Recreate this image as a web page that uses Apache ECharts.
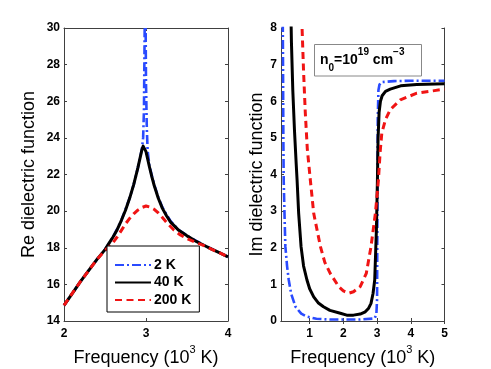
<!DOCTYPE html>
<html><head><meta charset="utf-8">
<script src="https://cdn.jsdelivr.net/npm/echarts@6/dist/echarts.min.js"></script>
<style>html,body{margin:0;padding:0;background:#fff}#c{width:491px;height:369px}</style>
</head><body><div id="c"></div>
<script>
// ---- Left panel: Re dielectric function ----
var reFreq40 = [2.0,2.1,2.2,2.3,2.4,2.5,2.55,2.6,2.65,2.7,2.75,2.8,2.85,2.9,2.93,2.95,2.965,2.976,2.985,3.0,3.02,3.04,3.07,3.1,3.15,3.2,3.25,3.3,3.4,3.5,3.6,3.7,3.8,3.9,4.0];
var re40     = [14.85,15.5,16.15,16.75,17.35,17.9,18.25,18.6,19.0,19.5,20.05,20.7,21.45,22.35,22.95,23.35,23.55,23.62,23.55,23.25,22.85,22.45,21.9,21.4,20.7,20.15,19.75,19.4,18.95,18.65,18.38,18.15,17.93,17.72,17.5];
var reFreq2  = [2.0,2.2,2.4,2.5,2.6,2.7,2.8,2.85,2.9,2.93,2.95,2.965,2.975,2.985,2.99,2.995,3.0,3.01,3.02,3.04,3.07,3.1,3.15,3.2,3.3,3.4,3.5,3.6,3.7,3.8,3.9,4.0];
var re2      = [14.85,16.15,17.35,17.9,18.6,19.5,20.7,21.45,22.35,22.95,23.4,24.0,25.5,30.5,31.0,30.5,27.0,24.5,23.3,22.55,21.95,21.45,20.75,20.2,19.45,18.97,18.67,18.4,18.16,17.94,17.72,17.5];
var reFreq200 = [2.0,2.2,2.4,2.5,2.55,2.6,2.65,2.7,2.75,2.8,2.85,2.9,2.95,3.0,3.05,3.1,3.15,3.2,3.26,3.34,3.42,3.5,3.6,3.7,3.85,4.0];
var re200     = [14.85,16.15,17.35,17.85,18.05,18.3,18.6,18.95,19.3,19.6,19.85,20.05,20.2,20.28,20.22,20.1,19.9,19.65,19.34,18.97,18.7,18.5,18.3,18.13,17.82,17.5];

// ---- Right panel: Im dielectric function ----
var imFreq40 = [0.44,0.46,0.5,0.55,0.6,0.627,0.674,0.745,0.82,0.92,1.0,1.12,1.25,1.41,1.6,1.91,2.1,2.3,2.5,2.65,2.75,2.82,2.88,2.93,2.98,3.01,3.03,3.06,3.1,3.15,3.25,3.39,3.7,4.18,5.0];
var im40     = [8.6,7.6,6.3,5.2,4.3,3.85,2.94,2.03,1.5,1.12,0.88,0.66,0.5,0.39,0.29,0.21,0.16,0.16,0.19,0.25,0.35,0.48,0.75,1.12,2.49,3.85,5.0,5.7,6.0,6.15,6.27,6.33,6.42,6.46,6.48];
var imFreq200 = [0.76,0.775,0.82,0.87,0.93,1.02,1.12,1.32,1.45,1.61,1.86,2.0,2.16,2.3,2.5,2.68,2.82,2.95,3.04,3.09,3.14,3.25,3.39,3.69,4.18,5.0];
var im200     = [8.6,8.0,6.8,5.7,4.7,3.85,2.94,2.03,1.6,1.3,0.94,0.82,0.76,0.8,0.94,1.3,2.03,2.94,3.85,4.6,5.13,5.5,5.77,6.04,6.22,6.33];
var imFreq2  = [0.2,0.21,0.22,0.23,0.26,0.28,0.33,0.38,0.45,0.58,0.75,0.92,1.2,1.61,2.5,2.93,2.98,3.0,3.01,3.02,3.04,3.07,3.12,3.5,4.0,5.0];
var im2      = [8.6,7.0,5.0,3.85,2.7,2.03,1.5,1.12,0.75,0.39,0.2,0.12,0.06,0.04,0.04,0.07,0.2,0.6,3.0,5.5,6.3,6.45,6.52,6.55,6.56,6.56];

var reXTicks = [2,3,4];
var reYTicks = [14,16,18,20,22,24,26,28,30];
var imXTicks = [1,2,3,4,5];
var imYTicks = [0,1,2,3,4,5,6,7,8];
var seriesNames = ['2 K','40 K','200 K'];

function pairs(xs, ys){ return xs.map(function(x,i){ return [x, ys[i]]; }); }

var BLUE = '#2a4bff', RED = '#f01414', BLACK = '#000000';
var AX = '#404040';
var FONT = 'Liberation Sans, Arial, Helvetica, sans-serif';

var nameRich = {
  n: {fontSize: 18, fontFamily: FONT, color: '#000', verticalAlign: 'bottom', lineHeight: 22},
  s: {fontSize: 11, fontFamily: FONT, color: '#000', verticalAlign: 'top', lineHeight: 22}
};

function xAx(grid, min, max, ticks){
  return {
    type: 'value', gridIndex: grid, min: min, max: max, position: 'bottom',
    axisLine: {show: true, lineStyle: {color: AX, width: 1}},
    axisTick: {show: true, inside: true, length: 3, customValues: ticks, lineStyle: {color: AX}},
    axisLabel: {show: true, customValues: ticks, fontSize: 12, fontWeight: 'bold', color: '#000', fontFamily: FONT, margin: 7},
    splitLine: {show: false},
    name: '{n|Frequency (10}{s|3}{n| K)}', nameLocation: 'middle', nameGap: 23,
    nameTextStyle: {rich: nameRich}
  };
}
function xTop(grid, min, max, ticks){
  return {
    type: 'value', gridIndex: grid, min: min, max: max, position: 'top',
    axisLine: {show: true, lineStyle: {color: AX, width: 1}},
    axisTick: {show: true, inside: true, length: 3, customValues: ticks, lineStyle: {color: AX}},
    axisLabel: {show: false}, splitLine: {show: false}
  };
}
function yAx(grid, min, max, ticks, name, gap){
  return {
    type: 'value', gridIndex: grid, min: min, max: max, position: 'left',
    axisLine: {show: true, lineStyle: {color: AX, width: 1}},
    axisTick: {show: true, inside: true, length: 3, customValues: ticks, lineStyle: {color: AX}},
    axisLabel: {show: true, customValues: ticks, fontSize: 12, fontWeight: 'bold', color: '#000', fontFamily: FONT, margin: 4},
    splitLine: {show: false},
    name: name, nameLocation: 'middle', nameGap: gap,
    nameTextStyle: {fontSize: 18, fontFamily: FONT, color: '#000'}
  };
}
function yRight(grid, min, max, ticks){
  return {
    type: 'value', gridIndex: grid, min: min, max: max, position: 'right',
    axisLine: {show: true, lineStyle: {color: AX, width: 1}},
    axisTick: {show: true, inside: true, length: 3, customValues: ticks, lineStyle: {color: AX}},
    axisLabel: {show: false}, splitLine: {show: false}
  };
}

function line(name, data, xi, yi, color, type, width, z){
  return {
    name: name, type: 'line', xAxisIndex: xi, yAxisIndex: yi, data: data, z: z,
    showSymbol: false, symbol: 'none', smooth: false, clip: true, silent: true,
    lineStyle: {color: color, width: width, type: type, join: 'round'}, itemStyle: {color: color},
    animation: false
  };
}

var chart = echarts.init(document.getElementById('c'), null, {renderer: 'canvas'});
chart.setOption({
  animation: false,
  backgroundColor: '#fff',
  grid: [
    {left: 64, top: 28, width: 164, height: 293, containLabel: false, outerBoundsMode: 'none'},
    {left: 281, top: 28, width: 163.5, height: 293, containLabel: false, outerBoundsMode: 'none'}
  ],
  xAxis: [
    xAx(0, 2, 4, reXTicks), xTop(0, 2, 4, reXTicks),
    xAx(1, 0.15, 5, imXTicks), xTop(1, 0.15, 5, imXTicks)
  ],
  yAxis: [
    yAx(0, 14, 30, reYTicks, 'Re dielectric function', 26), yRight(0, 14, 30, reYTicks),
    yAx(1, 0, 8, imYTicks, 'Im dielectric function', 14), yRight(1, 0, 8, imYTicks)
  ],
  legend: {
    data: seriesNames,
    left: 107, top: 246, orient: 'vertical',
    itemWidth: 36, itemHeight: 14, itemGap: 3.5,
    padding: [12, 8, 5, 7],
    borderColor: '#000', borderWidth: 1, backgroundColor: '#fff',
    itemStyle: {opacity: 0},
    textStyle: {fontSize: 14, fontWeight: 'bold', fontFamily: FONT, color: '#000', padding: [0,0,0,-2]},
    selectedMode: false, z: 20
  },
  graphic: [
    {type: 'rect', shape: {x: 314.5, y: 44.5, width: 107, height: 31.5},
     style: {fill: '#fff', stroke: '#888', lineWidth: 1}, z: 10},
    {type: 'text', x: 320, y: 47, z: 11,
     style: {
       text: '{m|n}{b|0}{m|=10}{t|19}{m| cm}{t|\u22123}',
       rich: {
         m: {fontSize: 14, fontWeight: 'bold', fontFamily: FONT, fill: '#000', verticalAlign: 'middle', lineHeight: 26},
         b: {fontSize: 10, fontWeight: 'bold', fontFamily: FONT, fill: '#000', verticalAlign: 'bottom', lineHeight: 26},
         t: {fontSize: 10, fontWeight: 'bold', fontFamily: FONT, fill: '#000', verticalAlign: 'top', lineHeight: 26}
       }
     }}
  ],
  series: [
    line('2 K', pairs(reFreq2, re2), 0, 0, BLUE, [9, 3, 2, 3], 2.6, 2),
    line('40 K', pairs(reFreq40, re40), 0, 0, BLACK, 'solid', 3, 3),
    line('200 K', pairs(reFreq200, re200), 0, 0, RED, [7, 4.5], 3, 4),
    line('2 K', pairs(imFreq2, im2), 2, 2, BLUE, [9, 3, 2, 3], 2.6, 2),
    line('40 K', pairs(imFreq40, im40), 2, 2, BLACK, 'solid', 3, 3),
    line('200 K', pairs(imFreq200, im200), 2, 2, RED, [7, 4.5], 3, 4)
  ]
});
</script></body></html>
